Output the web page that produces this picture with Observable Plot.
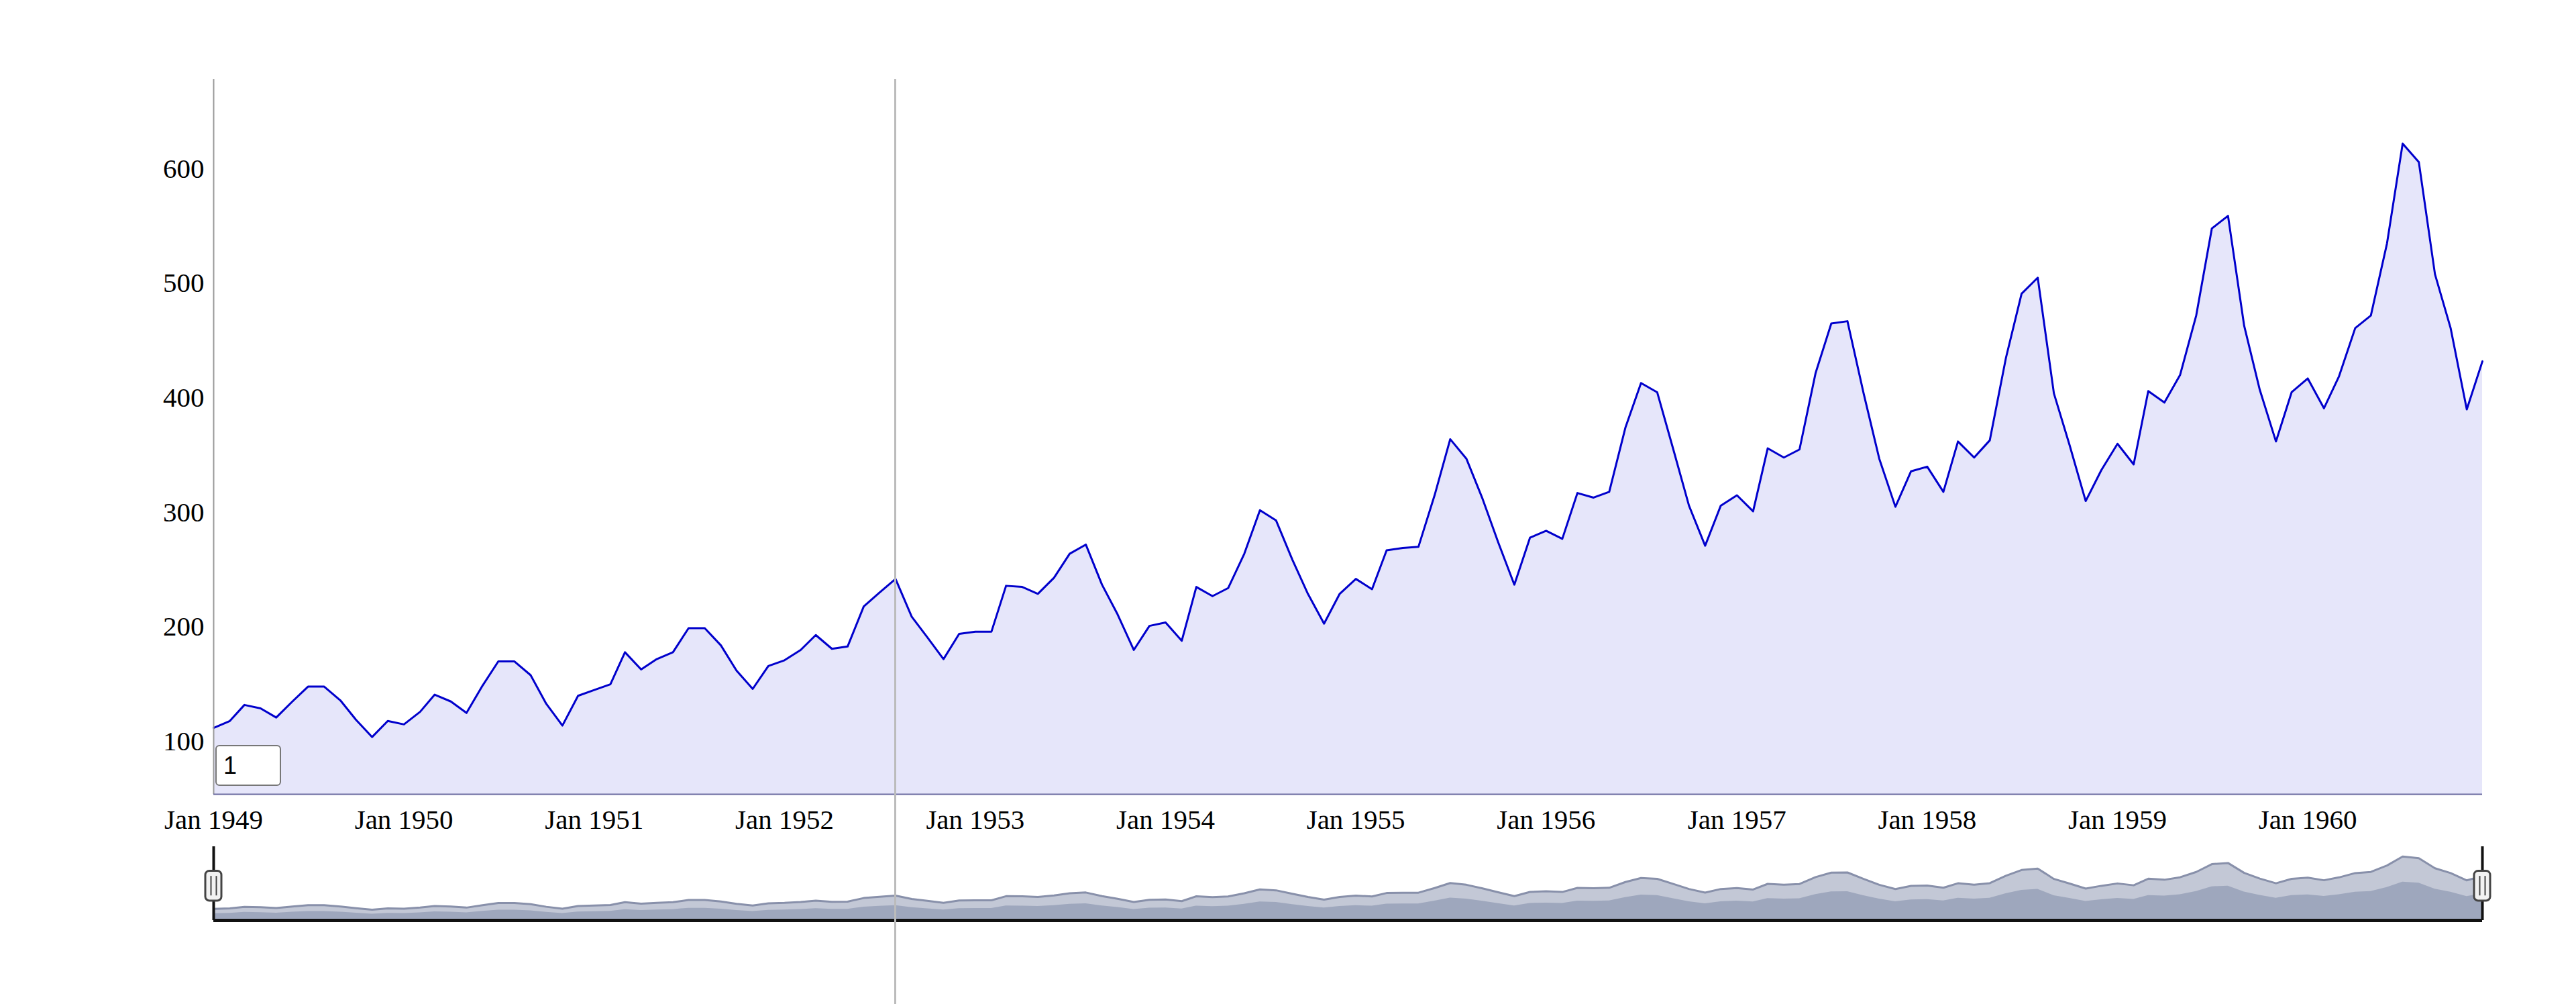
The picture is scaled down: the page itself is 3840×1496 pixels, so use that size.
<!DOCTYPE html>
<html>
<head>
<meta charset="utf-8">
<script src="https://cdn.jsdelivr.net/npm/d3@7"></script>
<script src="https://cdn.jsdelivr.net/npm/@observablehq/plot@0.6"></script>
<style>
  body { margin: 0; background: #fff; }
  #wrap { position: relative; width: 3840px; height: 1496px; overflow: hidden; }
  #wrap svg { display: block; }
  #num { position: absolute; left: 321px; top: 1110px; width: 98px; height: 61px; box-sizing: border-box;
         font: 36px "Liberation Sans", sans-serif; border: 2px solid #777; border-radius: 6px; padding: 4px 10px; background: #fff; }
  #hover { position: absolute; top: 118px; height: 1378px; width: 3px; background: #bbb; }
</style>
</head>
<body>
<div id="wrap"><input id="num" type="text" value="1"><div id="hover"></div></div>
<script>
// monthly airline passengers (thousands), Jan 1949 – Dec 1960
const years = [1949, 1950, 1951, 1952, 1953, 1954, 1955, 1956, 1957, 1958, 1959, 1960];
const passengers = [
  [112, 118, 132, 129, 121, 135, 148, 148, 136, 119, 104, 118],
  [115, 126, 141, 135, 125, 149, 170, 170, 158, 133, 114, 140],
  [145, 150, 178, 163, 172, 178, 199, 199, 184, 162, 146, 166],
  [171, 180, 193, 181, 183, 218, 230, 242, 209, 191, 172, 194],
  [196, 196, 236, 235, 229, 243, 264, 272, 237, 211, 180, 201],
  [204, 188, 235, 227, 234, 264, 302, 293, 259, 229, 203, 229],
  [242, 233, 267, 269, 270, 315, 364, 347, 312, 274, 237, 278],
  [284, 277, 317, 313, 318, 374, 413, 405, 355, 306, 271, 306],
  [315, 301, 356, 348, 355, 422, 465, 467, 404, 347, 305, 336],
  [340, 318, 362, 348, 363, 435, 491, 505, 404, 359, 310, 337],
  [360, 342, 406, 396, 420, 472, 548, 559, 463, 407, 362, 405],
  [417, 391, 419, 461, 472, 535, 622, 606, 508, 461, 390, 432]
];
const yTicks = [100, 200, 300, 400, 500, 600];
const hoverDate = new Date(Date.UTC(1952, 7, 1));

const data = [];
years.forEach((yr, i) => passengers[i].forEach((v, m) => data.push({date: new Date(Date.UTC(yr, m, 1)), value: v})));
const first = data[0].date, last = data[data.length - 1].date;
const ends = [{date: first}, {date: last}];

const main = Plot.plot({
  width: 3840, height: 1250,
  marginTop: 118, marginBottom: 67, marginLeft: 318, marginRight: 140,
  style: {fontSize: "41px", fontFamily: "Liberation Serif, serif", color: "#000", background: "transparent"},
  x: {type: "utc", domain: [first, last], ticks: d3.utcYear.every(1), tickFormat: d3.utcFormat("Jan %Y"), tickSize: 0, tickPadding: 22, label: null},
  y: {domain: [54, 678], ticks: yTicks, tickSize: 0, tickPadding: 14, label: null},
  marks: [
    Plot.areaY(data, {x: "date", y1: 54, y2: "value", fill: "#e6e6fa"}),
    Plot.lineY(data, {x: "date", y: "value", stroke: "#0000cc", strokeWidth: 3}),
    Plot.ruleX([first], {stroke: "#999", strokeWidth: 2}),
    Plot.ruleY([54], {stroke: "#6a6aa0", strokeWidth: 2})
  ]
});

const mini = Plot.plot({
  width: 3840, height: 246,
  marginTop: 23, marginBottom: 125, marginLeft: 318, marginRight: 140,
  x: {type: "utc", domain: [first, last], axis: null},
  y: {domain: [0, 640], axis: null},
  marks: [
    Plot.areaY(data, {x: "date", y1: 0, y2: "value", fill: "#c3c8d6"}),
    Plot.areaY(data, {x: "date", y1: 0, y2: d => d.value * 0.6, fill: "#8f98b2", fillOpacity: 0.7}),
    Plot.lineY(data, {x: "date", y: "value", stroke: "#8890aa", strokeWidth: 3}),
    Plot.ruleY([0], {stroke: "#111", strokeWidth: 5}),
    Plot.ruleX(ends, {x: "date", y1: 0, y2: 718, stroke: "#111", strokeWidth: 4, clip: false}),
    Plot.rect(ends, {x1: "date", x2: "date", y1: 190, y2: 480, insetLeft: -12, insetRight: -12,
      fill: "#f2f2f2", stroke: "#444", strokeWidth: 3, rx: 6}),
    Plot.ruleX(ends, {x: "date", y1: 240, y2: 430, dx: -4, stroke: "#444", strokeWidth: 2}),
    Plot.ruleX(ends, {x: "date", y1: 240, y2: 430, dx: 4, stroke: "#444", strokeWidth: 2})
  ]
});

const wrap = document.getElementById("wrap");
wrap.prepend(mini);
wrap.prepend(main);
document.getElementById("hover").style.left = (main.scale("x").apply(hoverDate) - 1) + "px";
</script>
</body>
</html>
